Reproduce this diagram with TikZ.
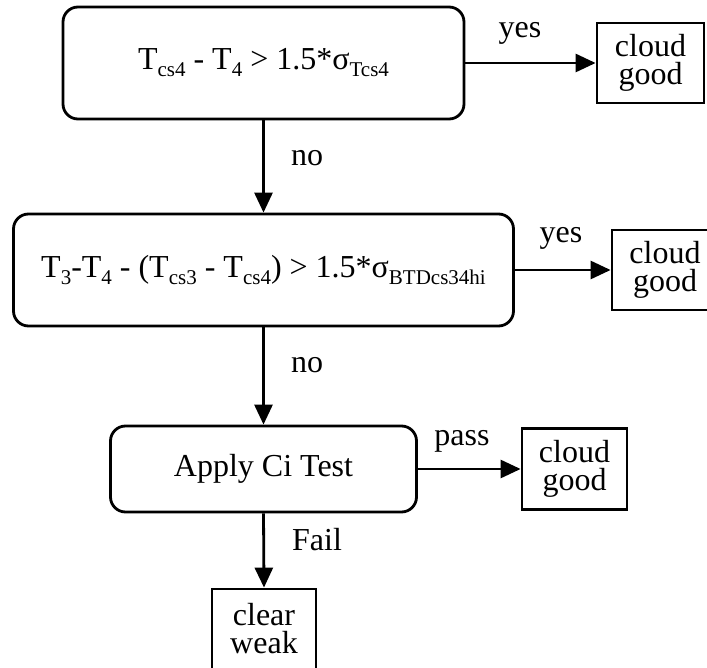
\documentclass[tikz,border=0pt]{standalone}
\usepackage{fontspec}
\setmainfont{Liberation Serif}
\usetikzlibrary{arrows.meta}
% lowered, smaller text for subscripts
\newcommand\lowsub[1]{\raisebox{-0.22em}{\fontsize{21}{21}\selectfont #1}}

\begin{document}
\begin{tikzpicture}[x=1pt,y=-1pt,
  every node/.style={font=\fontsize{32}{28}\selectfont},
  test/.style={draw, line width=2.8pt, rounded corners=15pt, inner sep=0pt, align=center},
  result/.style={draw, line width=2.8pt, inner sep=0pt, align=center},
  flow/.style={line width=2.8pt, -{Triangle[length=20pt,width=18pt]}},
  lbl/.style={inner sep=0pt, anchor=base}]
\useasboundingbox (0,0) rectangle (707,668);

% decision boxes
\node[test, minimum width=401pt, minimum height=112pt] (b1) at (263.5,63)
  {T\lowsub{cs4} - T\lowsub{4} > 1.5*σ\lowsub{Tcs4}};
\node[test, minimum width=500pt, minimum height=112pt] (b2) at (263.5,270)
  {T\lowsub{3}-T\lowsub{4} - (T\lowsub{cs3} - T\lowsub{cs4}) > 1.5*σ\lowsub{BTDcs34hi}};
\node[test, minimum width=306pt, minimum height=86pt] (b3) at (263.5,469)
  {Apply Ci Test};

% outcome boxes
\node[result, minimum width=107pt, minimum height=80pt] (g1) at (650.5,63) {cloud\\good};
\node[result, minimum width=106pt, minimum height=80pt] (g2) at (665,270) {cloud\\good};
\node[result, minimum width=105pt, minimum height=81pt] (g3) at (574.5,469) {cloud\\good};
\node[result, minimum width=104pt, minimum height=80pt] (cw) at (264,629) {clear\\weak};

% connectors
\draw[flow] (b1.east) -- (g1.west);
\draw[flow] (b2.east) -- (g2.west);
\draw[flow] (b3.east) -- (g3.west);
\draw[flow] (b1.south) -- (b2.north);
\draw[flow] (b2.south) -- (b3.north);
\draw[flow] (b3.south) -- (cw.north);

% connector labels
\node[lbl] (y1) at (520,38) {yes};
\node[lbl] (y2) at (561,243) {yes};
\node[lbl] (n1) at (307,166) {no};
\node[lbl] (n2) at (307,373) {no};
\node[lbl] (ps) at (462,445) {pass};
\node[lbl] (fl) at (317,550) {Fail};
\end{tikzpicture}
\end{document}
